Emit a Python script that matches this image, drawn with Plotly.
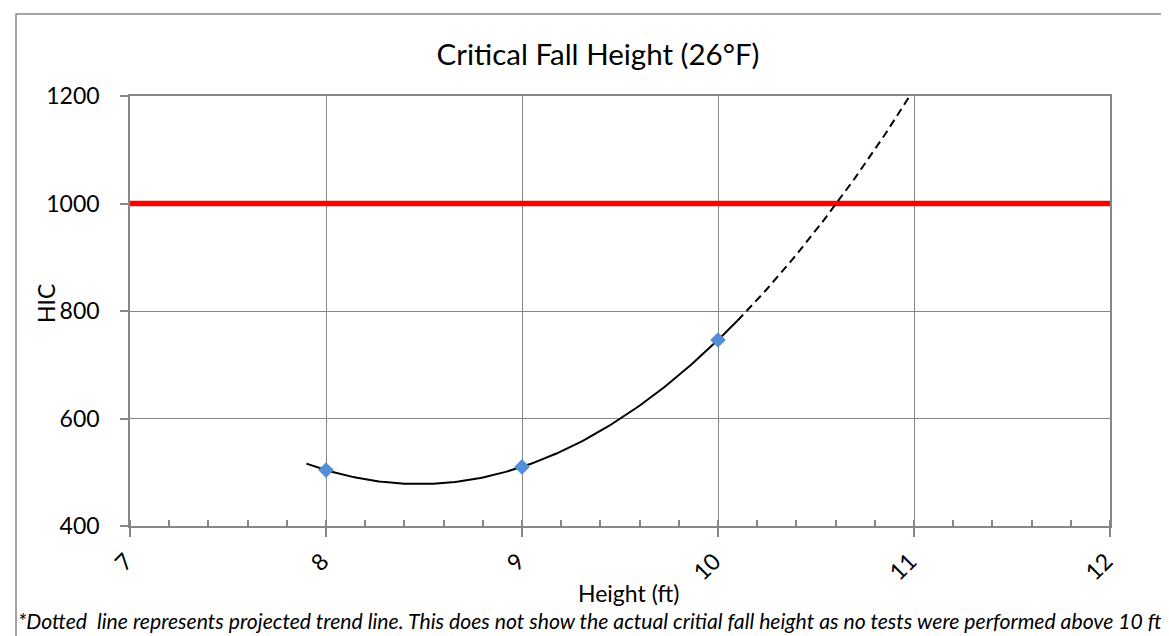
import numpy as np
import plotly.graph_objects as go

# ---- data ----
heights_ft = [8, 9, 10]
hic_values = [504, 510, 746]
hic_threshold = 1000
threshold_x = [7, 12]
trend_solid_range = [7.9, 10.1]      # fitted range (Excel trendline with backward 0.1)
trend_dashed_range = [10.1, 11.05]   # projected part
x_ticks = [7, 8, 9, 10, 11, 12]
y_ticks = [400, 600, 800, 1000, 1200]

title_text = "Critical Fall Height (26°F)"
x_title = "Height (ft)"
y_title = "HIC"
footnote = ("*Dotted  line represents projected trend line. This does not show the actual "
            "critial fall height as no tests were performed above 10 ft")

FONT = "Lato, Carlito, Calibri, sans-serif"
GRID = "#878787"

# polynomial (order 2) trend line, like the spreadsheet trendline
coef = np.polyfit(heights_ft, hic_values, 2)
xs_solid = np.linspace(trend_solid_range[0], trend_solid_range[1], 120)
xs_dash = np.linspace(trend_dashed_range[0], trend_dashed_range[1], 80)

fig = go.Figure()
fig.add_trace(go.Scatter(x=threshold_x, y=[hic_threshold, hic_threshold], mode="lines",
                         line=dict(color="#FF0000", width=5.5), hoverinfo="skip",
                         showlegend=False))
fig.add_trace(go.Scatter(x=xs_solid, y=np.polyval(coef, xs_solid), mode="lines",
                         line=dict(color="black", width=2), showlegend=False))
fig.add_trace(go.Scatter(x=xs_dash, y=np.polyval(coef, xs_dash), mode="lines",
                         line=dict(color="black", width=2, dash="8px,5px"), showlegend=False))
fig.add_trace(go.Scatter(x=heights_ft, y=hic_values, mode="markers",
                         marker=dict(symbol="diamond", size=12, color="#558ED5"),
                         showlegend=False))

W, H = 1169, 636
L, R, T, B = 122, 67, 88, 118
pw, ph = W - L - R, H - T - B

def px_x(p):
    return (p - L) / pw

def px_y(p):
    return (H - B - p) / ph

fig.update_layout(
    width=W, height=H,
    margin=dict(l=L, r=R, t=T, b=B, autoexpand=False),
    paper_bgcolor="white", plot_bgcolor="white",
    font=dict(family=FONT, color="black"),
    title=dict(text=title_text, xref="container", yref="container",
               x=590 / W, y=1 - 47 / H, xanchor="center", yanchor="middle",
               font=dict(family=FONT, size=29.5, color="black")),
    xaxis=dict(range=[7, 12], tickvals=x_ticks, tickangle=-45,
               showgrid=True, gridcolor=GRID, gridwidth=1.3,
               showline=True, linecolor=GRID, linewidth=1.5, mirror=True,
               ticks="outside", ticklen=9, tickcolor=GRID, tickwidth=1.5,
               ticklabelstandoff=2, ticklabelshift=-4,
               minor=dict(dtick=0.2, ticks="inside", ticklen=6, tickcolor=GRID,
                          tickwidth=1.5, showgrid=False),
               tickfont=dict(family=FONT, size=23, color="black"), zeroline=False),
    yaxis=dict(range=[400, 1200], tickvals=y_ticks,
               showgrid=True, gridcolor=GRID, gridwidth=1.3,
               showline=True, linecolor=GRID, linewidth=1.5, mirror=True,
               ticks="outside", ticklen=8, tickcolor=GRID, tickwidth=1.5,
               ticklabelstandoff=16,
               tickfont=dict(family=FONT, size=23, color="black"), zeroline=False),
    annotations=[
        dict(text=x_title, xref="paper", yref="paper", x=px_x(620), y=px_y(585),
             xanchor="center", yanchor="middle", showarrow=False,
             font=dict(family=FONT, size=23, color="black")),
        dict(text=y_title, xref="paper", yref="paper", x=px_x(38), y=px_y(296),
             xanchor="center", yanchor="middle", showarrow=False, textangle=-90,
             font=dict(family=FONT, size=23, color="black")),
        dict(text="<i>" + footnote + "</i>", xref="paper", yref="paper",
             x=px_x(8), y=px_y(613), xanchor="left", yanchor="middle", showarrow=False,
             font=dict(family=FONT, size=21.2, color="black")),
    ],
    shapes=[dict(type="rect", xref="paper", yref="paper",
                 x0=px_x(8), x1=px_x(1180), y0=px_y(645), y1=px_y(6),
                 line=dict(color=GRID, width=1.5), fillcolor="rgba(0,0,0,0)", layer="below")],
)

fig.write_html("out.html")
